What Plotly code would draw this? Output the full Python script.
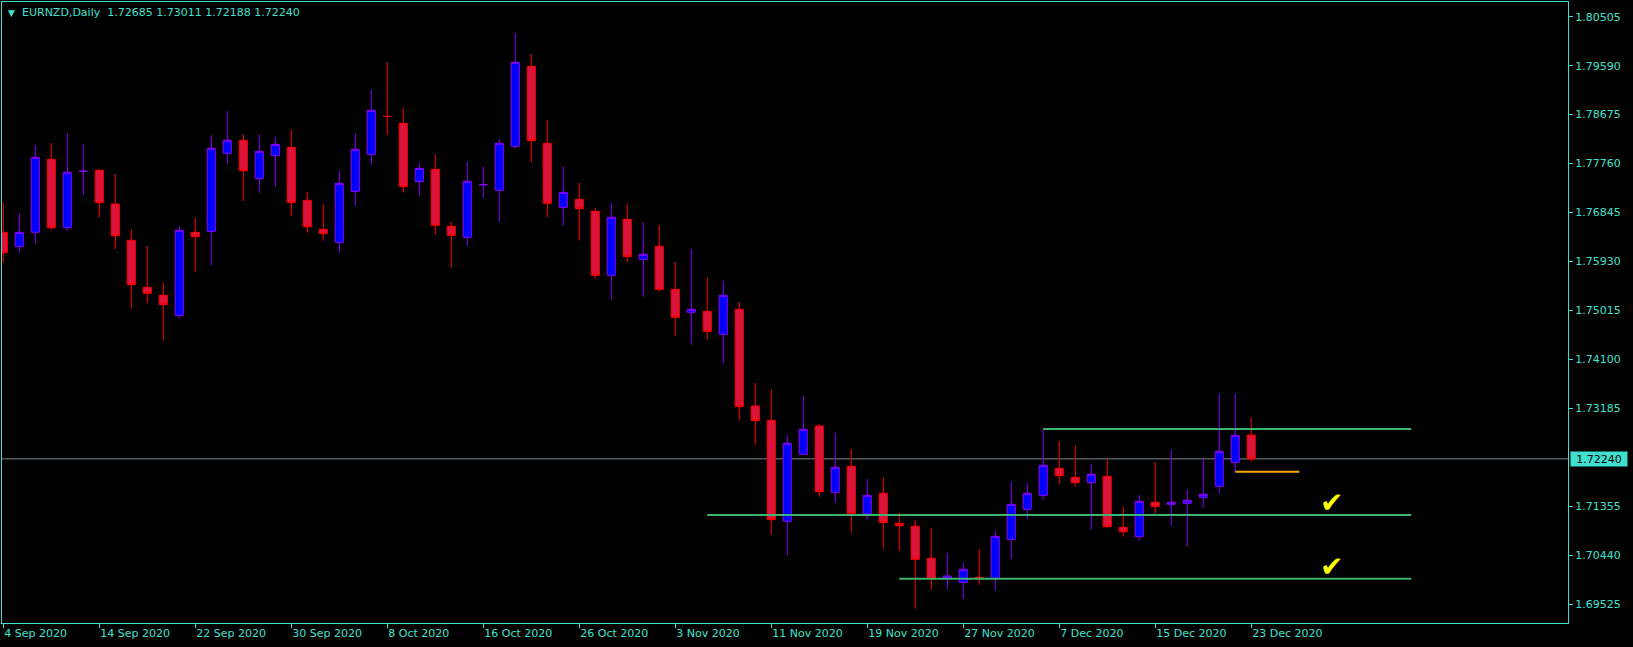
import plotly.graph_objects as go

# ---- data -------------------------------------------------------------
symbol_title = "EURNZD,Daily\u00a0\u00a01.72685 1.73011 1.72188 1.72240"

opens = [1.76475, 1.76207, 1.76475, 1.77839, 1.76562, 1.77615, 1.77633, 1.77004, 1.76325, 1.75446,
         1.75297, 1.74923, 1.76475, 1.76493, 1.77951, 1.78194, 1.77478, 1.77908, 1.78063, 1.77073,
         1.76530, 1.76288, 1.77241, 1.77932, 1.78643, 1.78512, 1.77422, 1.77652, 1.76587, 1.76381,
         1.77365, 1.77260, 1.78082, 1.79577, 1.78138, 1.76942, 1.77091, 1.76867, 1.75671, 1.76717,
         1.75970, 1.76213, 1.75409, 1.74979, 1.74998, 1.74568, 1.75035, 1.73228, 1.72960, 1.71073,
         1.72325, 1.72855, 1.71615, 1.72101, 1.71210, 1.71596, 1.71035, 1.70979, 1.70381, 1.70007,
         1.69932, 1.70026, 1.70007, 1.70736, 1.71297, 1.71559, 1.72063, 1.71895, 1.71795, 1.71914,
         1.70960, 1.70786, 1.71428, 1.71390, 1.71409, 1.71521, 1.71727, 1.72175, 1.72685]
highs = [1.77023, 1.76836, 1.78107, 1.78144, 1.78331, 1.78126, 1.77652, 1.77565, 1.76537, 1.76219,
         1.75527, 1.76593, 1.76742, 1.78288, 1.78742, 1.78312, 1.78312, 1.78256, 1.78387, 1.77228,
         1.77004, 1.77621, 1.78331, 1.79135, 1.79658, 1.78799, 1.77770, 1.77920, 1.76668, 1.77789,
         1.77714, 1.78219, 1.80200, 1.79808, 1.78574, 1.77714, 1.77397, 1.76929, 1.77023, 1.77004,
         1.76668, 1.76612, 1.75920, 1.76163, 1.75640, 1.75565, 1.75172, 1.73658, 1.73546, 1.72686,
         1.73415, 1.72892, 1.72724, 1.72425, 1.71864, 1.71901, 1.71228, 1.71098, 1.70948, 1.70481,
         1.70294, 1.70555, 1.70892, 1.71808, 1.71789, 1.72798, 1.72574, 1.72499, 1.72150, 1.72238,
         1.71340, 1.71565, 1.72182, 1.72406, 1.71677, 1.72238, 1.73453, 1.73453, 1.73011]
lows = [1.75908, 1.76094, 1.76263, 1.76518, 1.76499, 1.77172, 1.76749, 1.76163, 1.75048, 1.75160,
        1.74450, 1.74861, 1.75739, 1.75851, 1.77758, 1.77060, 1.77216, 1.77328, 1.76786, 1.76468,
        1.76319, 1.76094, 1.76973, 1.77739, 1.78300, 1.77216, 1.77160, 1.76431, 1.75814, 1.76225,
        1.77122, 1.76674, 1.78038, 1.77777, 1.76749, 1.76599, 1.76319, 1.75608, 1.75216, 1.75926,
        1.75272, 1.75365, 1.74543, 1.74375, 1.74468, 1.74020, 1.72954, 1.72506, 1.70823, 1.70431,
        1.72320, 1.71534, 1.71421, 1.70861, 1.71104, 1.70562, 1.70524, 1.69440, 1.69808, 1.69808,
        1.69621, 1.69883, 1.69789, 1.70368, 1.71122, 1.71478, 1.71758, 1.71721, 1.70917, 1.70954,
        1.70786, 1.70711, 1.71216, 1.70992, 1.70599, 1.71328, 1.71590, 1.72001, 1.72188]
closes = [1.76094, 1.76475, 1.77876, 1.76562, 1.77596, 1.77616, 1.77029, 1.76412, 1.75496, 1.75334,
          1.75122, 1.76512, 1.76393, 1.78045, 1.78194, 1.77627, 1.77988, 1.78119, 1.77029, 1.76580,
          1.76450, 1.77390, 1.78026, 1.78755, 1.78640, 1.77328, 1.77671, 1.76605, 1.76418, 1.77428,
          1.77366, 1.78138, 1.79652, 1.78188, 1.77017, 1.77222, 1.76917, 1.75671, 1.76755, 1.76020,
          1.76063, 1.75409, 1.74886, 1.75035, 1.74624, 1.75297, 1.73216, 1.72954, 1.71104, 1.72531,
          1.72792, 1.71627, 1.72082, 1.71222, 1.71558, 1.71048, 1.70992, 1.70362, 1.70007, 1.70051,
          1.70175, 1.70007, 1.70792, 1.71390, 1.71596, 1.72119, 1.71926, 1.71795, 1.71951, 1.70973,
          1.70879, 1.71446, 1.71347, 1.71428, 1.71465, 1.71577, 1.72381, 1.72680, 1.72240]

bar_index = list(range(len(opens)))

date_tick_bars = [0, 6, 12, 18, 24, 30, 36, 42, 48, 54, 60, 66, 72, 78]
date_tick_labels = ["4 Sep 2020", "14 Sep 2020", "22 Sep 2020", "30 Sep 2020", "8 Oct 2020",
                    "16 Oct 2020", "26 Oct 2020", "3 Nov 2020", "11 Nov 2020", "19 Nov 2020",
                    "27 Nov 2020", "7 Dec 2020", "15 Dec 2020", "23 Dec 2020"]

price_ticks = [1.80505, 1.79590, 1.78675, 1.77760, 1.76845, 1.75930, 1.75015,
               1.74100, 1.73185, 1.71355, 1.70440, 1.69525]
price_tick_labels = ["1.80505", "1.79590", "1.78675", "1.77760", "1.76845", "1.75930", "1.75015",
                     "1.74100", "1.73185", "1.71355", "1.70440", "1.69525"]

current_price = 1.72240

# horizontal levels: (start bar, end bar, price)
green_levels = [(65, 88, 1.72798), (44, 88, 1.71192), (56, 88, 1.69998)]
orange_level = (77, 81, 1.72000)
check_bar = 83
check_prices = [1.71192, 1.69998]

# ---- styling ----------------------------------------------------------
FG = "#40E0D0"
FONT = "DejaVu Sans"

fig = go.Figure()

fig.add_trace(go.Candlestick(
    x=bar_index, open=opens, high=highs, low=lows, close=closes,
    increasing=dict(line=dict(color="#8B00FF", width=1), fillcolor="#0000FF"),
    decreasing=dict(line=dict(color="#FF0000", width=1), fillcolor="#DC143C"),
    whiskerwidth=0, hoverinfo="skip", showlegend=False,
))

for x0, x1, p in green_levels:
    fig.add_trace(go.Scatter(x=[x0, x1], y=[p, p], mode="lines",
                             line=dict(color="#3CB371", width=2),
                             hoverinfo="skip", showlegend=False))

fig.add_trace(go.Scatter(x=[orange_level[0], orange_level[1]],
                         y=[orange_level[2], orange_level[2]], mode="lines",
                         line=dict(color="#FFA500", width=2),
                         hoverinfo="skip", showlegend=False))

# current price line (behind candles)
fig.add_shape(type="line", xref="paper", x0=0, x1=1, yref="y",
              y0=current_price, y1=current_price,
              line=dict(color="#778899", width=1), layer="below")

annotations = [
    dict(text="\u25BC", xref="paper", yref="paper", x=0, y=0.9828, xanchor="left",
         yanchor="middle", xshift=4, showarrow=False, font=dict(family=FONT, size=9, color=FG)),
    dict(text=symbol_title, xref="paper", yref="paper", x=0, y=0.9828, xanchor="left",
         yanchor="middle", xshift=18, showarrow=False, font=dict(family=FONT, size=11, color=FG)),
    dict(text=f"{current_price:.5f}", xref="paper", yref="y", x=1, y=current_price,
         xanchor="left", yanchor="middle", xshift=2, showarrow=False,
         bgcolor=FG, borderpad=1, width=54, height=12,
         font=dict(family=FONT, size=11, color="#000000")),
]
for p in check_prices:
    annotations.append(dict(text="\u2714", x=check_bar, y=p, xref="x", yref="y",
                            xanchor="center", yanchor="bottom", yshift=-6, showarrow=False,
                            font=dict(family=FONT, size=28, color="#FFFF00")))

fig.update_layout(
    width=1633, height=647,
    paper_bgcolor="#000000", plot_bgcolor="#000000",
    margin=dict(l=2, r=65, t=2, b=24),
    showlegend=False,
    boxgap=0.28,
    annotations=annotations,
    xaxis=dict(
        range=[-0.08, 97.8], tickmode="array", tickvals=date_tick_bars, ticktext=date_tick_labels,
        ticks="outside", ticklen=4, tickcolor=FG, showline=True, linecolor=FG, linewidth=1,
        mirror=True, showgrid=False, zeroline=False, rangeslider=dict(visible=False),
        ticklabelposition="outside right",
        tickfont=dict(family=FONT, size=11, color=FG), fixedrange=True,
    ),
    yaxis=dict(
        side="right", range=[1.69172, 1.80780], tickmode="array", tickvals=price_ticks,
        ticktext=price_tick_labels, ticks="outside", ticklen=4, tickcolor=FG,
        showline=True, linecolor=FG, linewidth=1, mirror=True, showgrid=False,
        zeroline=False, tickfont=dict(family=FONT, size=11, color=FG), fixedrange=True,
    ),
)

fig.write_html(
    "out.html",
    config={"displayModeBar": False},
    post_script="document.body.style.margin='0';document.body.style.padding='0';"
                "document.body.style.background='#000';",
)
